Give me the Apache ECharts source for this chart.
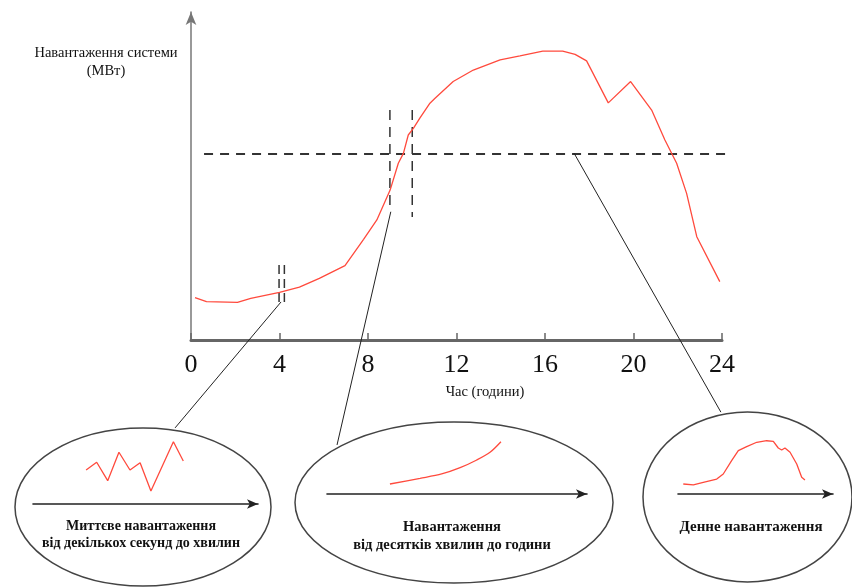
<!DOCTYPE html>
<html><head><meta charset="utf-8">
<script src="https://cdn.jsdelivr.net/npm/echarts@6/dist/echarts.min.js"></script>
<style>html,body{margin:0;padding:0;background:#fff}#c{width:852px;height:587px}</style>
</head><body><div id="c"></div>
<script>
// ---- main daily load curve (hours, relative load 0..100) ----
const hourTicks = [0, 4, 8, 12, 16, 20, 24];
const loadHours = [0.18, 0.7, 2.1, 2.7, 4.0, 4.9, 5.8, 6.96, 7.8, 8.4, 9.0, 9.37, 9.6, 9.82, 10.05, 10.35, 10.8, 11.03, 11.85, 12.76, 13.97, 14.87, 15.9, 16.8, 17.36, 17.88, 18.86, 19.87, 20.82, 21.42, 21.95, 22.4, 22.86, 23.9];
const loadValues = [12.9, 11.7, 11.5, 12.7, 14.5, 16.1, 18.8, 22.7, 30.7, 36.6, 45.7, 53.9, 56.9, 62.5, 64.5, 67.7, 72.2, 73.7, 78.8, 82.3, 85.4, 86.6, 88.1, 88.1, 87.1, 85.1, 72.3, 78.8, 70.1, 61.0, 53.9, 44.7, 31.5, 17.8];

// ---- dashed reference lines: [hourStart, valueStart, hourEnd, valueEnd] ----
const levelLine = [[0.59, 56.7, 24.36, 56.7]];
const windowLinesA = [[8.99, 70.1, 8.99, 39.6], [10.0, 70.1, 10.0, 37.5]];
const windowLinesB = [[3.98, 22.9, 3.98, 10.1], [4.22, 22.9, 4.22, 10.1]];

// ---- connector lines: [hourStart, valueStart, hourEnd, valueEnd] ----
const connectors = [
  [4.07, 11.6, -0.72, -26.8],
  [9.03, 39.1, 6.6, -32.0],
  [17.31, 57.0, 23.95, -22.0]
];

// ---- inset curves ----
const inset1X = [2.36, 2.83, 3.32, 3.82, 4.31, 4.76, 5.24, 6.24, 6.68];
const inset1Y = [4.86, 5.96, 3.33, 7.39, 4.86, 5.90, 1.86, 8.90, 6.14];
const inset2X = [2.42, 3.58, 4.41, 5.12, 5.76, 6.27, 6.69];
const inset2Y = [1.43, 2.24, 2.86, 3.76, 4.86, 5.96, 7.47];
const inset3X = [0.34, 0.99, 1.63, 2.50, 2.92, 3.46, 3.89, 4.43, 5.08, 5.72, 6.15, 6.47, 6.69, 6.90, 7.23, 7.66, 7.98, 8.19];
const inset3Y = [1.43, 1.29, 1.67, 2.14, 2.86, 4.76, 6.19, 6.76, 7.39, 7.61, 7.53, 6.57, 6.29, 6.57, 5.96, 4.29, 2.39, 2.00];

// ---- texts ----
const yTitle = 'Навантаження системи\n(МВт)';
const xTitle = 'Час (години)';
const caption1 = 'Миттєве навантаження\nвід декількох секунд до хвилин';
const caption2 = 'Навантаження\nвід десятків хвилин до години';
const caption3 = 'Денне навантаження';

const zip = (a, b) => a.map((v, i) => [v, b[i]]);
const RED = '#ff4a3d';
const SERIF = '"Liberation Serif", "DejaVu Serif", serif';

const chart = echarts.init(document.getElementById('c'));

function insetAxes(idx) {
  return {
    x: { gridIndex: idx, type: 'value', min: 0, max: 10,
      axisLine: { show: true, lineStyle: { color: '#222', width: 1.6 }, symbol: ['none', 'arrow'], symbolSize: [7, 11] },
      axisTick: { show: false }, axisLabel: { show: false }, splitLine: { show: false } },
    y: { gridIndex: idx, type: 'value', min: 0, max: 10, show: false, splitLine: { show: false } }
  };
}
const i1 = insetAxes(1), i2 = insetAxes(2), i3 = insetAxes(3);

// segments drawn through the main axes (custom series, not clipped)
const segments = (data, style, z) => ({
  type: 'custom', xAxisIndex: 0, yAxisIndex: 0, data, silent: true, clip: false, z,
  encode: { x: [0, 2], y: [1, 3] },
  renderItem: (params, api) => {
    const p1 = api.coord([api.value(0), api.value(1)]);
    const p2 = api.coord([api.value(2), api.value(3)]);
    return { type: 'line', shape: { x1: p1[0], y1: p1[1], x2: p2[0], y2: p2[1] }, style: Object.assign({ fill: null }, style) };
  }
});

chart.setOption({
  animation: false,
  backgroundColor: '#fff',
  grid: [
    { left: 191, right: 130, top: 12, bottom: 247 },
    { left: 33, right: 594, top: 434, bottom: 83 },
    { left: 327, right: 265, top: 424, bottom: 93 },
    { left: 678, right: 19, top: 424, bottom: 93 }
  ],
  xAxis: [
    { gridIndex: 0, type: 'value', min: 0, max: 24, interval: 4,
      axisLine: { lineStyle: { color: '#666', width: 3 } },
      axisTick: { show: true, inside: true, length: 7, lineStyle: { color: '#666', width: 1.5 } },
      axisLabel: { color: '#111', fontFamily: SERIF, fontSize: 26, margin: 12,
        formatter: (v) => hourTicks.includes(v) ? String(v) : '' },
      splitLine: { show: false } },
    i1.x, i2.x, i3.x
  ],
  yAxis: [
    { gridIndex: 0, type: 'value', min: 0, max: 100,
      axisLine: { show: true, lineStyle: { color: '#777', width: 1.5 }, symbol: ['none', 'arrow'], symbolSize: [8, 13] },
      axisTick: { show: false }, axisLabel: { show: false }, splitLine: { show: false } },
    i1.y, i2.y, i3.y
  ],
  graphic: [
    { type: 'ellipse', shape: { cx: 143, cy: 507, rx: 128, ry: 79 }, style: { fill: 'none', stroke: '#444', lineWidth: 1.5 }, z: 1 },
    { type: 'ellipse', shape: { cx: 454, cy: 502.5, rx: 159, ry: 80.5 }, style: { fill: 'none', stroke: '#444', lineWidth: 1.5 }, z: 1 },
    { type: 'ellipse', shape: { cx: 747.5, cy: 497, rx: 104.5, ry: 85 }, style: { fill: 'none', stroke: '#444', lineWidth: 1.5 }, z: 1 },
    { type: 'text', x: 106, y: 62, style: { text: yTitle, font: '14.5px ' + SERIF, fill: '#111', align: 'center', verticalAlign: 'middle', lineHeight: 18 } },
    { type: 'text', x: 485, y: 392, style: { text: xTitle, font: '14.5px ' + SERIF, fill: '#111', align: 'center', verticalAlign: 'middle' } },
    { type: 'text', x: 141, y: 535, style: { text: caption1, font: 'bold 14px ' + SERIF, fill: '#111', align: 'center', verticalAlign: 'middle', lineHeight: 17 } },
    { type: 'text', x: 452, y: 536, style: { text: caption2, font: 'bold 14.5px ' + SERIF, fill: '#111', align: 'center', verticalAlign: 'middle', lineHeight: 18 } },
    { type: 'text', x: 751, y: 527, style: { text: caption3, font: 'bold 15px ' + SERIF, fill: '#111', align: 'center', verticalAlign: 'middle' } }
  ],
  series: [
    { type: 'line', xAxisIndex: 0, yAxisIndex: 0, data: zip(loadHours, loadValues), symbol: 'none',
      lineStyle: { color: RED, width: 1.3 }, z: 5 },
    segments(levelLine, { stroke: '#333', lineWidth: 2, lineDash: [9, 7] }, 3),
    segments(windowLinesA, { stroke: '#333', lineWidth: 1.5, lineDash: [10, 7] }, 3),
    segments(windowLinesB, { stroke: '#333', lineWidth: 1.5, lineDash: [9, 5] }, 3),
    segments(connectors, { stroke: '#222', lineWidth: 1 }, 4),
    { type: 'line', xAxisIndex: 1, yAxisIndex: 1, data: zip(inset1X, inset1Y), symbol: 'none', lineStyle: { color: RED, width: 1.3 } },
    { type: 'line', xAxisIndex: 2, yAxisIndex: 2, data: zip(inset2X, inset2Y), symbol: 'none', smooth: 0.3, lineStyle: { color: RED, width: 1.3 } },
    { type: 'line', xAxisIndex: 3, yAxisIndex: 3, data: zip(inset3X, inset3Y), symbol: 'none', lineStyle: { color: RED, width: 1.3 } }
  ]
});
</script>
</body></html>
